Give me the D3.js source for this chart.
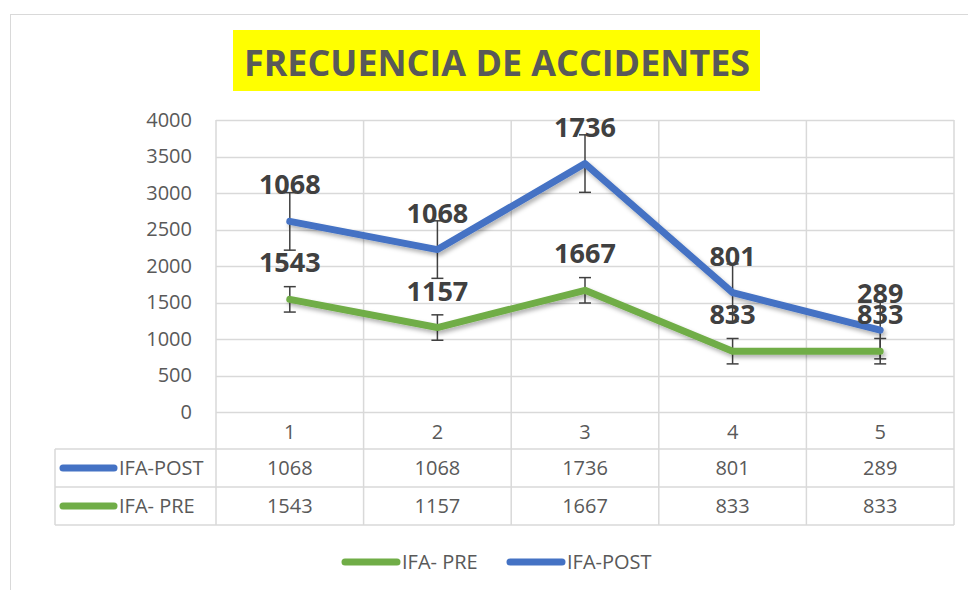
<!DOCTYPE html>
<html>
<head>
<meta charset="utf-8">
<script src="https://cdn.jsdelivr.net/npm/d3@7"></script>
<style>
  body { margin: 0; background: #fff; }
  svg { display: block; font-family: "Open Sans", sans-serif; }
</style>
</head>
<body>
<div id="chart"></div>
<script>
// chart data
const categories = ["1", "2", "3", "4", "5"];
const seriesNames = ["IFA- PRE", "IFA-POST"];
const ifaPre = [1543, 1157, 1667, 833, 833];
const ifaPost = [1068, 1068, 1736, 801, 289];
const yTicks = [0, 500, 1000, 1500, 2000, 2500, 3000, 3500, 4000];
// standard error bars (same size for every point of a series)
const errorPre = 174;
const errorPost = 394;

const colors = {"IFA- PRE": "#70AD47", "IFA-POST": "#4472C4"};
const gridColor = "#d9d9d9";
const textColor = "#595959";

const W = 968, H = 590;
const plot = {left: 216, right: 954, top: 120, bottom: 412};
const table = {left: 55, rowH: 38};

const svg = d3.select("#chart").append("svg")
    .attr("width", W)
    .attr("height", H);

// shadow under the lines
const defs = svg.append("defs");
defs.append("filter")
    .attr("id", "shadow")
    .attr("x", "-10%").attr("y", "-30%")
    .attr("width", "120%").attr("height", "160%")
    .append("feDropShadow")
    .attr("dx", 2).attr("dy", 3)
    .attr("stdDeviation", 2)
    .attr("flood-color", "#000")
    .attr("flood-opacity", 0.3);

// outer chart frame
svg.append("rect")
    .attr("x", 10.5).attr("y", 14.5)
    .attr("width", W).attr("height", H)
    .attr("fill", "none")
    .attr("stroke", gridColor);

// title with yellow box
const title = svg.append("g");
title.append("rect")
    .attr("x", 233).attr("y", 30)
    .attr("width", 527).attr("height", 61)
    .attr("fill", "#ffff00");
title.append("text")
    .attr("x", 497).attr("y", 76)
    .attr("text-anchor", "middle")
    .attr("font-size", 35)
    .attr("font-weight", "bold")
    .attr("fill", textColor)
    .attr("textLength", 506)
    .attr("lengthAdjust", "spacingAndGlyphs")
    .text("FRECUENCIA DE ACCIDENTES");

// scales
const x = d3.scaleBand()
    .domain(categories)
    .range([plot.left, plot.right])
    .padding(0);

const y = d3.scaleLinear()
    .domain([0, 4000])
    .range([plot.bottom, plot.top]);

const cx = d => x(d) + x.bandwidth() / 2;

// horizontal gridlines
svg.append("g")
    .selectAll("line")
    .data(yTicks)
    .enter().append("line")
    .attr("x1", plot.left).attr("x2", plot.right)
    .attr("y1", d => Math.round(y(d)) + 0.5)
    .attr("y2", d => Math.round(y(d)) + 0.5)
    .attr("stroke", gridColor)
    .attr("stroke-width", 1.5);

// y axis labels
const yAxis = d3.axisLeft(y)
    .tickValues(yTicks)
    .tickFormat(d3.format("d"))
    .tickSize(0)
    .tickPadding(24);
svg.append("g")
    .attr("transform", `translate(${plot.left},0)`)
    .call(yAxis)
    .call(g => g.select(".domain").remove())
    .selectAll("text")
    .attr("font-family", "Open Sans, sans-serif")
    .attr("font-size", 20)
    .attr("fill", textColor);

// data table underneath the plot
const rowTop = [plot.bottom + 37, plot.bottom + 37 + table.rowH, plot.bottom + 37 + 2 * table.rowH];
const tableBottom = rowTop[2];

// vertical category lines (plot + table)
svg.append("g")
    .selectAll("line")
    .data(categories.concat(["end"]))
    .enter().append("line")
    .attr("x1", d => d === "end" ? plot.right : x(d))
    .attr("x2", d => d === "end" ? plot.right : x(d))
    .attr("y1", plot.top)
    .attr("y2", tableBottom)
    .attr("stroke", gridColor)
    .attr("stroke-width", 1.5);

// horizontal table lines
svg.append("g")
    .selectAll("line")
    .data(rowTop)
    .enter().append("line")
    .attr("x1", table.left).attr("x2", plot.right)
    .attr("y1", d => d).attr("y2", d => d)
    .attr("stroke", gridColor)
    .attr("stroke-width", 1.5);

svg.append("line")
    .attr("x1", table.left).attr("x2", table.left)
    .attr("y1", rowTop[0]).attr("y2", tableBottom)
    .attr("stroke", gridColor)
    .attr("stroke-width", 1.5);

// category labels
svg.append("g")
    .selectAll("text")
    .data(categories)
    .enter().append("text")
    .attr("x", d => cx(d))
    .attr("y", plot.bottom + 27)
    .attr("text-anchor", "middle")
    .attr("font-size", 20)
    .attr("fill", textColor)
    .text(d => d);

// table rows: POST first, then PRE
const tableRows = [
    {name: "IFA-POST", values: ifaPost},
    {name: "IFA- PRE", values: ifaPre}
];

tableRows.forEach((row, i) => {
    const mid = rowTop[i] + table.rowH / 2;
    const g = svg.append("g");
    g.append("line")
        .attr("x1", 63).attr("x2", 114)
        .attr("y1", mid).attr("y2", mid)
        .attr("stroke", colors[row.name])
        .attr("stroke-width", 7)
        .attr("stroke-linecap", "round");
    g.append("text")
        .attr("x", 119).attr("y", mid + 7)
        .attr("font-size", 20)
        .attr("fill", textColor)
        .text(row.name);
    g.selectAll(".val")
        .data(row.values)
        .enter().append("text")
        .attr("class", "val")
        .attr("x", (d, j) => cx(categories[j]))
        .attr("y", mid + 7)
        .attr("text-anchor", "middle")
        .attr("font-size", 20)
        .attr("fill", textColor)
        .text(d => d);
});

// stacked series
const stackInput = categories.map((c, i) => ({cat: c, "IFA- PRE": ifaPre[i], "IFA-POST": ifaPost[i]}));
const stacked = d3.stack().keys(seriesNames)(stackInput);
const errors = {"IFA- PRE": errorPre, "IFA-POST": errorPost};

const line = d3.line()
    .x(d => cx(d.data.cat))
    .y(d => y(d[1]));

// error bars
stacked.forEach(s => {
    const err = errors[s.key];
    const g = svg.append("g")
        .attr("stroke", "#404040")
        .attr("stroke-width", 1.5);
    s.forEach(d => {
        const px = cx(d.data.cat);
        g.append("line")
            .attr("x1", px).attr("x2", px)
            .attr("y1", y(d[1] + err)).attr("y2", y(d[1] - err));
        [d[1] + err, d[1] - err].forEach(v => {
            g.append("line")
                .attr("x1", px - 6).attr("x2", px + 6)
                .attr("y1", y(v)).attr("y2", y(v));
        });
    });
});

// lines
svg.append("g")
    .selectAll("path")
    .data(stacked)
    .enter().append("path")
    .attr("d", line)
    .attr("fill", "none")
    .attr("stroke", d => colors[d.key])
    .attr("stroke-width", 7)
    .attr("stroke-linecap", "round")
    .attr("stroke-linejoin", "round")
    .attr("filter", "url(#shadow)");

// data labels (series value, placed above the stacked point)
stacked.forEach(s => {
    svg.append("g")
        .selectAll("text")
        .data(s)
        .enter().append("text")
        .attr("x", d => cx(d.data.cat))
        .attr("y", d => y(d[1]) - 27)
        .attr("text-anchor", "middle")
        .attr("font-size", 27)
        .attr("font-weight", "bold")
        .attr("fill", "#404040")
        .text(d => d.data[s.key]);
});

// legend at the bottom
const legendItems = [
    {name: "IFA- PRE", x: 345},
    {name: "IFA-POST", x: 510}
];
const legend = svg.append("g");
legendItems.forEach(item => {
    legend.append("line")
        .attr("x1", item.x).attr("x2", item.x + 52)
        .attr("y1", 562).attr("y2", 562)
        .attr("stroke", colors[item.name])
        .attr("stroke-width", 7)
        .attr("stroke-linecap", "round");
    legend.append("text")
        .attr("x", item.x + 57).attr("y", 569)
        .attr("font-size", 20)
        .attr("fill", textColor)
        .text(item.name);
});
</script>
</body>
</html>
